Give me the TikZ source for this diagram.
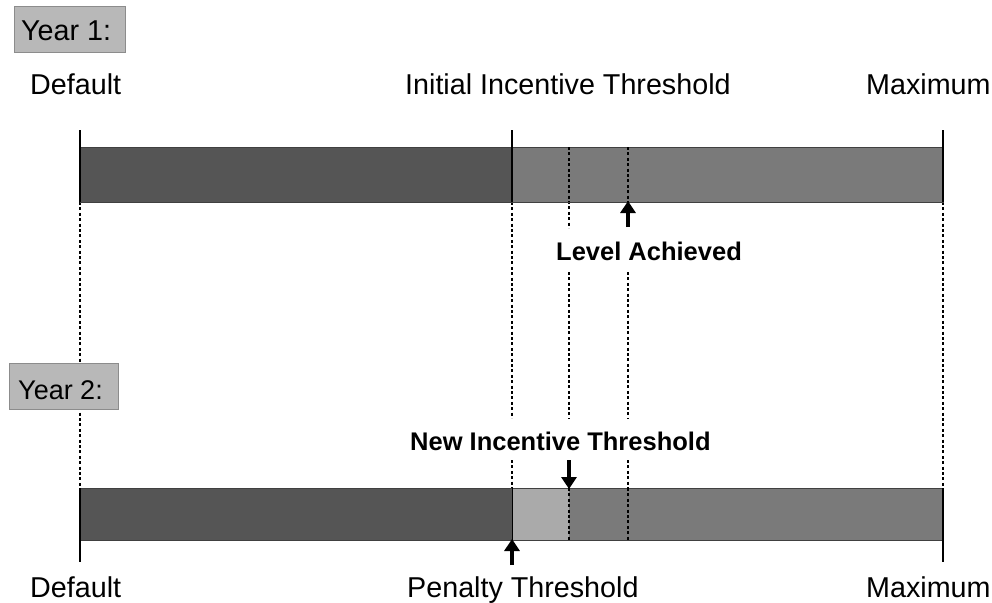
\documentclass[tikz,border=0pt]{standalone}
\usepackage{fontspec}
\setmainfont{Liberation Sans}
\usetikzlibrary{arrows.meta}
\definecolor{bardark}{HTML}{555555}
\definecolor{barmid}{HTML}{7A7A7A}
\definecolor{barlight}{HTML}{AAAAAA}
\definecolor{tagfill}{HTML}{B8B8B8}
\definecolor{tagline}{HTML}{8C8C8C}
\tikzset{
  lbl/.style={anchor=base west,inner sep=0pt,font=\fontsize{28.7}{30}\selectfont},
  blbl/.style={anchor=base west,inner sep=0pt,font=\fontsize{25.5}{27}\selectfont\bfseries},
  tag/.style={draw=tagline,fill=tagfill,line width=1pt},
  barpart/.style={draw=black!75,line width=0.8pt},
  guide/.style={line width=2.2pt,dash pattern=on 3pt off 2.4pt},
  tick/.style={line width=2.6pt},
  marker/.style={line width=4pt,-{Triangle[width=15pt,length=12pt]}},
}
\begin{document}
\begin{tikzpicture}[x=1pt,y=-1pt]
\useasboundingbox (0,0) rectangle (992,602);

% vertical guide lines through both years
\draw[guide] (80,202) -- (80,488);
\draw[guide] (943,202) -- (943,488);
\draw[guide] (512,202) -- (512,418);
\draw[guide] (569,147) -- (569,228);
\draw[guide] (569,272) -- (569,418);
\draw[guide] (628,272) -- (628,418);

% Year 1
\draw[tag] (14,7) rectangle (125,53);
\node[lbl] (y1) at (21,41) {Year 1:};
\node[lbl] (def1) at (30,94) {Default};
\node[lbl] (init) at (405,94) {Initial Incentive Threshold};
\node[lbl] (max1) at (866,94) {Maximum};

\fill[bardark] (80,147) rectangle (512,202);
\fill[barmid] (512,147) rectangle (943,202);
\draw[barpart] (80,147) rectangle (943,202);
\draw[guide] (569,147) -- (569,202);
\draw[guide] (628,147) -- (628,202);
\draw[tick] (80,130) -- (80,202);
\draw[tick] (512,130) -- (512,202);
\draw[tick] (943,130) -- (943,202);

\coordinate (lvltip) at (628,201);
\coordinate (lvltail) at (628,227);
\draw[marker] (lvltail) -- (lvltip);
\node[blbl] (lvl) at (556,260) {Level Achieved};

% Year 2
\draw[tag] (9,363) rectangle (118,409);
\node[lbl,font=\fontsize{27}{28}\selectfont] (y2) at (18,399) {Year 2:};
\node[blbl] (newinc) at (410,450) {New Incentive Threshold};

\draw[guide] (512,460) -- (512,488);
\draw[guide] (569,460) -- (569,488);
\draw[guide] (628,460) -- (628,488);

\fill[bardark] (80,488) rectangle (512,540);
\fill[barlight] (512,488) rectangle (569,540);
\fill[barmid] (569,488) rectangle (943,540);
\draw[barpart] (80,488) rectangle (943,540);
\draw[guide] (569,488) -- (569,540);
\draw[guide] (628,488) -- (628,540);
\draw[tick] (80,488) -- (80,562);
\draw[tick] (943,488) -- (943,562);
\draw[line width=1pt] (512,488) -- (512,540);

\coordinate (newtail) at (569,460);
\coordinate (newtip) at (569,489);
\draw[marker] (newtail) -- (newtip);
\coordinate (pentail) at (512,565);
\coordinate (pentip) at (512,539);
\draw[marker] (pentail) -- (pentip);

\node[lbl] (def2) at (30,597) {Default};
\node[lbl] (pen) at (407,597) {Penalty Threshold};
\node[lbl] (max2) at (866,597) {Maximum};
\end{tikzpicture}
\end{document}
